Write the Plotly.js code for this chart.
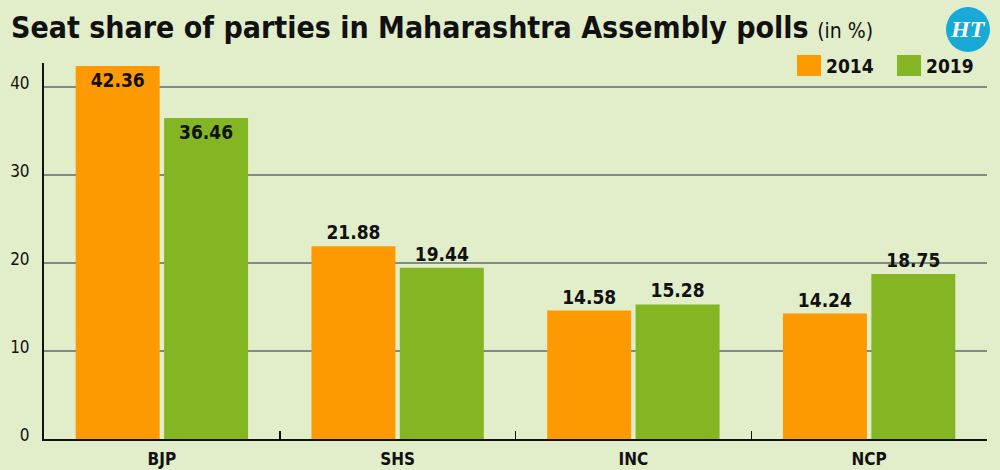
<!DOCTYPE html>
<html>
<head>
<meta charset="utf-8">
<script src="https://cdn.plot.ly/plotly-3.0.1.min.js"></script>
<style>
html,body{margin:0;padding:0;background:#e2edca;}
#chart{width:1000px;height:470px;}
</style>
</head>
<body>
<div id="chart"></div>
<script>
const parties = ["BJP", "SHS", "INC", "NCP"];
const seriesNames = ["2014", "2019"];
const share2014 = [42.36, 21.88, 14.58, 14.24];
const share2019 = [36.46, 19.44, 15.28, 18.75];
const yTicks = [0, 10, 20, 30, 40];

const FONT = "'DejaVu Sans Condensed', 'Liberation Sans Narrow', sans-serif";
const colors = ["#fd9a02", "#84b623"];
const bg = "#e2edca";

function labelPos(vals) { return vals.map(v => v > 30 ? "inside" : "outside"); }

const traces = [share2014, share2019].map((vals, i) => ({
  type: "bar",
  name: seriesNames[i],
  x: parties,
  y: vals,
  marker: {color: colors[i], line: {width: 0}},
  text: vals.map(v => v.toFixed(2)),
  textposition: labelPos(vals),
  insidetextanchor: "end",
  textangle: 0,
  constraintext: "none",
  cliponaxis: false,
  textfont: {family: FONT, size: 19, color: "#111", weight: "bold"},
  insidetextfont: {family: FONT, size: 19, color: "#111", weight: "bold"},
  outsidetextfont: {family: FONT, size: 19, color: "#111", weight: "bold"},
  showlegend: false,
  hoverinfo: "x+y"
}));

// custom legend from series names
const shapes = [];
const annotations = [];
const legX = [797, 897];
seriesNames.forEach((n, i) => {
  shapes.push({type: "rect", xref: "paper", yref: "paper",
    x0: (legX[i] - 44) / 943, x1: (legX[i] + 24 - 44) / 943,
    y0: (439 - 76) / 376, y1: (439 - 55) / 376,
    fillcolor: colors[i], line: {width: 0}, layer: "above"});
  annotations.push({xref: "paper", yref: "paper",
    x: (legX[i] + 27 - 44) / 943, y: (439 - 66) / 376,
    xanchor: "left", yanchor: "middle", showarrow: false,
    text: "<b>" + n + "</b>", font: {family: FONT, size: 19, color: "#111"}});
});

// title
annotations.push({xref: "paper", yref: "paper", x: (9 - 44) / 943, y: (439 - 27) / 376,
  xanchor: "left", yanchor: "middle", showarrow: false,
  text: "<b>Seat share of parties in Maharashtra Assembly polls</b> <span style='font-size:21px;font-weight:normal'>(in %)</span>",
  font: {family: FONT, size: 30, color: "#111"}});

// HT logo
shapes.push({type: "circle", xref: "paper", yref: "paper",
  x0: (946 - 44) / 943, x1: (990 - 44) / 943,
  y0: (439 - 52) / 376, y1: (439 - 7) / 376,
  fillcolor: "#19a9d6", line: {width: 0}, layer: "above"});
annotations.push({xref: "paper", yref: "paper", x: (968 - 44) / 943, y: (439 - 29) / 376,
  xanchor: "center", yanchor: "middle", showarrow: false,
  text: "<b><i>HT</i></b>", font: {family: "'Liberation Serif', 'DejaVu Serif', serif", size: 24, color: "#ffffff"}});

const layout = {
  width: 1000, height: 470,
  margin: {l: 44, r: 13, t: 63, b: 31, pad: 0},
  paper_bgcolor: bg, plot_bgcolor: bg,
  barmode: "group",
  bargap: 0.25,
  bargroupgap: 0.05,
  showlegend: false,
  xaxis: {
    type: "category",
    tickson: "boundaries",
    ticks: "inside", ticklen: 8, tickwidth: 1.5, tickcolor: "#111",
    showline: true, linecolor: "#111", linewidth: 2,
    showgrid: false,
    tickfont: {family: FONT, size: 17, color: "#111", weight: "bold"},
    ticklabelstandoff: 4,
    fixedrange: true
  },
  yaxis: {
    range: [0, 42.7],
    tickvals: yTicks,
    ticktext: yTicks.map(String),
    showline: true, linecolor: "#111", linewidth: 2,
    showgrid: true, gridcolor: "#7f8c82", gridwidth: 1.5,
    zeroline: false,
    ticks: "",
    tickfont: {family: FONT, size: 17, color: "#111"},
    ticklabelstandoff: 9,
    ticklabelshift: -4,
    fixedrange: true
  },
  shapes: shapes,
  annotations: annotations
};

Plotly.newPlot("chart", traces, layout, {displayModeBar: false, staticPlot: true});
</script>
</body>
</html>
